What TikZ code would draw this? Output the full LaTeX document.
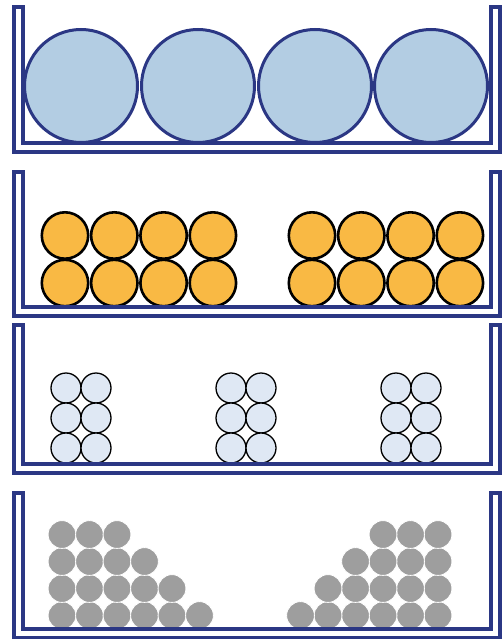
\documentclass[tikz,border=0pt]{standalone}
\definecolor{navy}{HTML}{2B3784}
\definecolor{bigblue}{HTML}{B3CDE3}
\definecolor{orangeb}{HTML}{F9B944}
\definecolor{paleb}{HTML}{DFE8F4}
\definecolor{greyb}{HTML}{9E9E9E}
\tikzset{
  tray/.style={draw=navy, line width=3.2pt, line join=miter},
  bigball/.style={fill=bigblue, draw=navy, line width=3pt},
  orball/.style={fill=orangeb, draw=black, line width=2.6pt},
  smball/.style={fill=paleb, draw=black, line width=1.3pt},
  grball/.style={fill=greyb, draw=white, line width=0.8pt},
}
\newcommand{\traydraw}[2]{% top y, inner bottom y
  \draw[tray] (14,#1) -- (23,#1) -- (23,#2) -- (491,#2) -- (491,#1) -- (500,#1) -- (500,#2+9) -- (14,#2+9) -- cycle;}
\begin{document}
\begin{tikzpicture}[x=1pt,y=-1pt]
\useasboundingbox (0,0) rectangle (502,639);
% tray 1
\foreach \x in {81,198,315,431} \draw[bigball] (\x,86) circle (56.5);
\traydraw{7}{143}
% tray 2
\foreach \x in {65,114.3,163.6,212.9,312,361.3,410.6,459.9}
  \foreach \y in {235.5,283} \draw[orball] (\x,\y) circle (23.2);
\traydraw{172}{307}
% tray 3
\foreach \gx in {66,231,396}
  \foreach \dx in {0,30}
    \foreach \y in {388,418,448} \draw[smball] (\gx+\dx,\y) circle (15);
\traydraw{325}{464}
% tray 4
\foreach \row/\n in {0/6,1/5,2/4,3/3}{
  \foreach \i in {1,...,\n}{
    \draw[grball] (62+27.5*\i-27.5,615.5-27*\row) circle (13.9);
    \draw[grball] (438-27.5*\i+27.5,615.5-27*\row) circle (13.9);
  }
}
\traydraw{493}{629}
\end{tikzpicture}
\end{document}
